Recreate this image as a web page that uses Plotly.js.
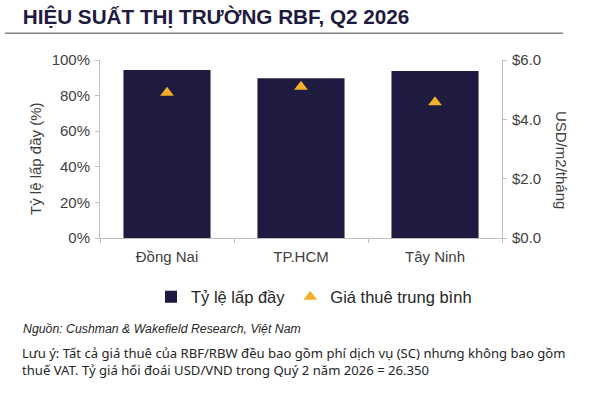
<!DOCTYPE html>
<html>
<head>
<meta charset="utf-8">
<script src="https://cdn.plot.ly/plotly-3.0.1.min.js"></script>
<style>html,body{margin:0;padding:0;background:#fff;}#chart{width:602px;height:409px;}</style>
</head>
<body>
<div id="chart"></div>
<script>
const categories = ["Đồng Nai", "TP.HCM", "Tây Ninh"];
const occupancy = [0.944, 0.897, 0.938];
const avgRent = [4.9, 5.1, 4.58];
const occLabel = "Tỷ lệ lấp đầy";
const rentLabel = "Giá thuê trung bình";
const leftTicks = [0, 0.2, 0.4, 0.6, 0.8, 1.0];
const rightTicks = [0, 2, 4, 6];

const NAVY = "#1E1A40";
const GOLD = "#F2B02B";
const AX = "#BFBFBF";
const TXT = "#404040";
const ARIAL = "Arial, 'Liberation Sans', sans-serif";

const traces = [
  {
    type: "bar", x: categories, y: occupancy, name: occLabel,
    marker: {color: NAVY}, yaxis: "y", hoverinfo: "skip"
  },
  {
    type: "scatter", mode: "markers", x: categories, y: avgRent, name: rentLabel,
    marker: {symbol: "triangle-up", size: 12, color: GOLD}, yaxis: "y2", hoverinfo: "skip"
  }
];

const W = 602, H = 409, L = 100, R = 502, T = 60, B = 238;
const px = v => (v - L) / (R - L);
const py = v => (B - v) / (B - T);

const layout = {
  width: W, height: H,
  margin: {l: L, r: W - R, t: T, b: H - B, pad: 0},
  paper_bgcolor: "#fff", plot_bgcolor: "#fff",
  bargap: 0.35,
  showlegend: true,
  font: {family: ARIAL, color: TXT, size: 15},
  title: {
    text: "<b>HIỆU SUẤT THỊ TRƯỜNG RBF, Q2 2026</b>",
    font: {family: ARIAL, size: 20.7, color: NAVY},
    x: 22.7 / W, xanchor: "left", xref: "container",
    y: 1 - 16.5 / H, yanchor: "middle", yref: "container"
  },
  xaxis: {
    type: "category", showline: true, linecolor: AX, linewidth: 1,
    ticks: "outside", tickson: "boundaries", ticklen: 4, tickcolor: AX,
    ticklabelstandoff: 5,
    tickfont: {size: 15, color: TXT}, showgrid: false, zeroline: false, fixedrange: true
  },
  yaxis: {
    range: [0, 1], tickvals: leftTicks, tickformat: ".0%",
    showline: true, linecolor: AX, ticks: "outside", ticklen: 4, tickcolor: AX,
    ticklabelstandoff: 2,
    tickfont: {size: 15, color: TXT}, showgrid: false, zeroline: false, fixedrange: true
  },
  yaxis2: {
    range: [0, 6], tickvals: rightTicks, tickformat: "$.1f",
    overlaying: "y", side: "right",
    showline: true, linecolor: AX, ticks: "outside", ticklen: 4, tickcolor: AX,
    ticklabelstandoff: 2,
    tickfont: {size: 15, color: TXT}, showgrid: false, zeroline: false, fixedrange: true
  },
  legend: {
    orientation: "h", x: px(314), xanchor: "center", y: py(297), yanchor: "middle",
    font: {size: 16.5, color: "#262626"}, traceorder: "normal", itemclick: false,
    itemwidth: 30
  },
  shapes: [
    {type: "line", xref: "paper", yref: "paper", x0: px(5), x1: px(563), y0: py(33.3), y1: py(33.3),
     line: {color: "#808080", width: 1.5}}
  ],
  annotations: [
    {text: "Tỷ lệ lấp đầy (%)", textangle: -90, xref: "paper", yref: "paper",
     x: px(35), xanchor: "center", y: py(159), yanchor: "middle", showarrow: false,
     font: {size: 15, color: TXT}},
    {text: "USD/m2/tháng", textangle: 90, xref: "paper", yref: "paper",
     x: px(562), xanchor: "center", y: py(160), yanchor: "middle", showarrow: false,
     font: {size: 15, color: TXT}},
    {text: "<i>Nguồn: Cushman &amp; Wakefield Research, Việt Nam</i>", xref: "paper", yref: "paper",
     x: px(20.7), xanchor: "left", y: py(328.5), yanchor: "middle", showarrow: false,
     font: {family: ARIAL, size: 12.3, color: "#262626"}},
    {text: "Lưu ý: Tất cả giá thuê của RBF/RBW đều bao gồm phí dịch vụ (SC) nhưng không bao gồm<br>thuế VAT. Tỷ giá hối đoái USD/VND trong Quý 2 năm 2026 = 26.350",
     xref: "paper", yref: "paper", align: "left",
     x: px(20), xanchor: "left", y: py(361), yanchor: "middle", showarrow: false,
     font: {family: "'Noto Sans', 'Open Sans', sans-serif", size: 13.1, color: "#262626"}}
  ]
};

Plotly.newPlot("chart", traces, layout, {displayModeBar: false, staticPlot: true});
</script>
</body>
</html>
